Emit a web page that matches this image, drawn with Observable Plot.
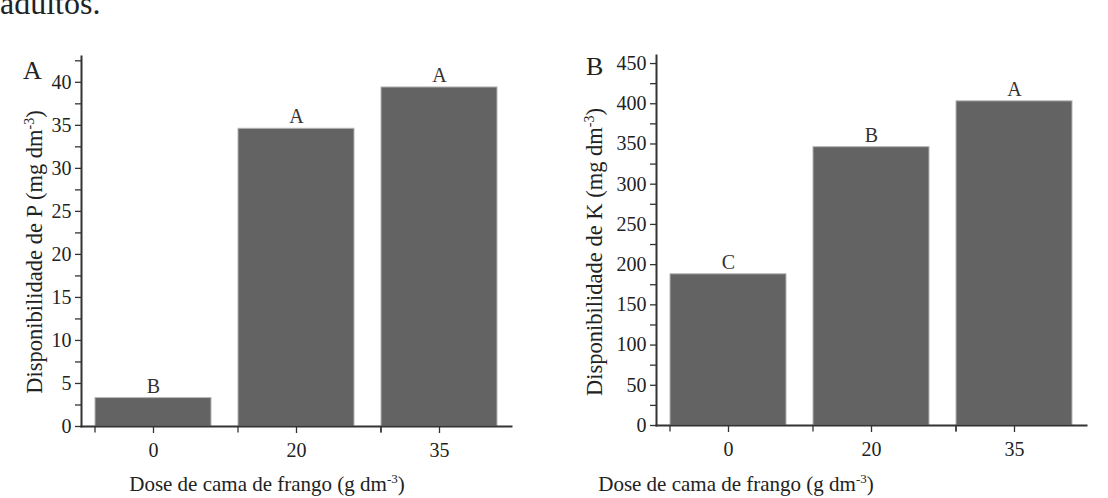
<!DOCTYPE html>
<html>
<head>
<meta charset="utf-8">
<script src="https://cdn.jsdelivr.net/npm/d3@7"></script>
<script src="https://cdn.jsdelivr.net/npm/@observablehq/plot@0.6"></script>
<style>
  html, body { margin: 0; padding: 0; background: #fff; }
  #page { position: relative; width: 1108px; height: 498px; overflow: hidden; font-family: "Liberation Serif", "DejaVu Serif", serif; color: #222; }
  #page svg, #page svg text { font-family: "Liberation Serif", serif !important; }
  .abs { position: absolute; white-space: nowrap; line-height: 1; }
  .ylab { transform: translate(-50%, -50%) rotate(-90deg); font-size: 22.5px; }
  .xlab { transform: translate(-50%, -50%); font-size: 21px; }
  sup { font-size: 0.62em; vertical-align: 0.55em; line-height: 0; }
  .panel { font-size: 26px; }
</style>
</head>
<body>
<div id="page">
  <div class="abs" style="left:0; top:-13px; font-size:32px;">adultos.</div>
  <div id="plotP" class="abs" style="left:0; top:0;"></div>
  <div id="plotK" class="abs" style="left:554px; top:0;"></div>
  <div class="abs panel" style="left:23px; top:58px;">A</div>
  <div class="abs panel" style="left:586px; top:54px;">B</div>
  <div class="abs ylab" style="left:35px; top:252px;">Disponibilidade de P (mg dm<sup>-3</sup>)</div>
  <div class="abs ylab" style="left:595px; top:252px;">Disponibilidade de K (mg dm<sup>-3</sup>)</div>
  <div class="abs xlab" style="left:267px; top:484px;">Dose de cama de frango (g dm<sup>-3</sup>)</div>
  <div class="abs xlab" style="left:736px; top:484px;">Dose de cama de frango (g dm<sup>-3</sup>)</div>
</div>
<script>
// Data
const doses = ["0", "20", "35"];
const phosphorus = [3.3, 34.6, 39.4];
const phosphorusLetters = ["B", "A", "A"];
const potassium = [188, 346, 403];
const potassiumLetters = ["C", "B", "A"];
const pMajorTicks = [0, 5, 10, 15, 20, 25, 30, 35, 40];
const pMinorTicks = [2.5, 7.5, 12.5, 17.5, 22.5, 27.5, 32.5, 37.5, 42.5];
const kMajorTicks = [0, 50, 100, 150, 200, 250, 300, 350, 400, 450];
const kMinorTicks = [25, 75, 125, 175, 225, 275, 325, 375, 425];

const font = "Liberation Serif";
const axisColor = "#333";
const barColor = "#636363";

function panel({values, letters, yMax, major, minor, marginLeft, marginRight, marginTop, marginBottom, tickExt}) {
  const data = doses.map((d, i) => ({dose: d, value: values[i], letter: letters[i]}));
  const frameW = 554 - marginLeft - marginRight;
  const step = frameW / 3;
  const edges = [
    ...doses.map(d => ({dose: d, dx: -step / 2})),
    {dose: doses[doses.length - 1], dx: step / 2}
  ];
  return Plot.plot({
    width: 554,
    height: 498,
    marginLeft, marginRight, marginTop, marginBottom,
    style: {fontFamily: font, fontSize: "20px", color: "#222", background: "transparent", overflow: "visible"},
    x: {domain: doses, paddingInner: 0.19, paddingOuter: 0.095, label: null},
    y: {domain: [0, yMax], label: null},
    marks: [
      Plot.barY(data, {x: "dose", y: "value", fill: barColor, stroke: "#b4b4b4", strokeWidth: 1}),
      Plot.text(data, {x: "dose", y: "value", text: "letter", dy: -12, fontSize: 20, fill: "#333", fontFamily: font}),
      Plot.axisY({ticks: major, tickSize: 6, tickPadding: 4, fontSize: 20, fontFamily: font, stroke: axisColor, strokeWidth: 1.3, label: null, fill: "#222"}),
      Plot.axisY({ticks: minor, tickSize: 6, tickFormat: () => "", stroke: axisColor, strokeWidth: 1.3, label: null}),
      Plot.axisX({tickSize: 7, tickPadding: 9, fontSize: 20, fontFamily: font, stroke: axisColor, strokeWidth: 1.3, label: null, fill: "#222"}),
      Plot.ruleX(edges, {x: "dose", dx: d => d.dx, y1: 0, y2: -tickExt, stroke: axisColor, strokeWidth: 1.3}),
      Plot.frame({anchor: "left", stroke: axisColor, strokeWidth: 2}),
      Plot.frame({anchor: "bottom", stroke: axisColor, strokeWidth: 2})
    ]
  });
}

document.getElementById("plotP").append(panel({
  values: phosphorus, letters: phosphorusLetters, yMax: 43,
  major: pMajorTicks, minor: pMinorTicks,
  marginLeft: 81, marginRight: 43, marginTop: 56, marginBottom: 72, tickExt: 0.75
}));

document.getElementById("plotK").append(panel({
  values: potassium, letters: potassiumLetters, yMax: 460,
  major: kMajorTicks, minor: kMinorTicks,
  marginLeft: 102, marginRight: 22, marginTop: 55, marginBottom: 73, tickExt: 8
}));
</script>
</body>
</html>
